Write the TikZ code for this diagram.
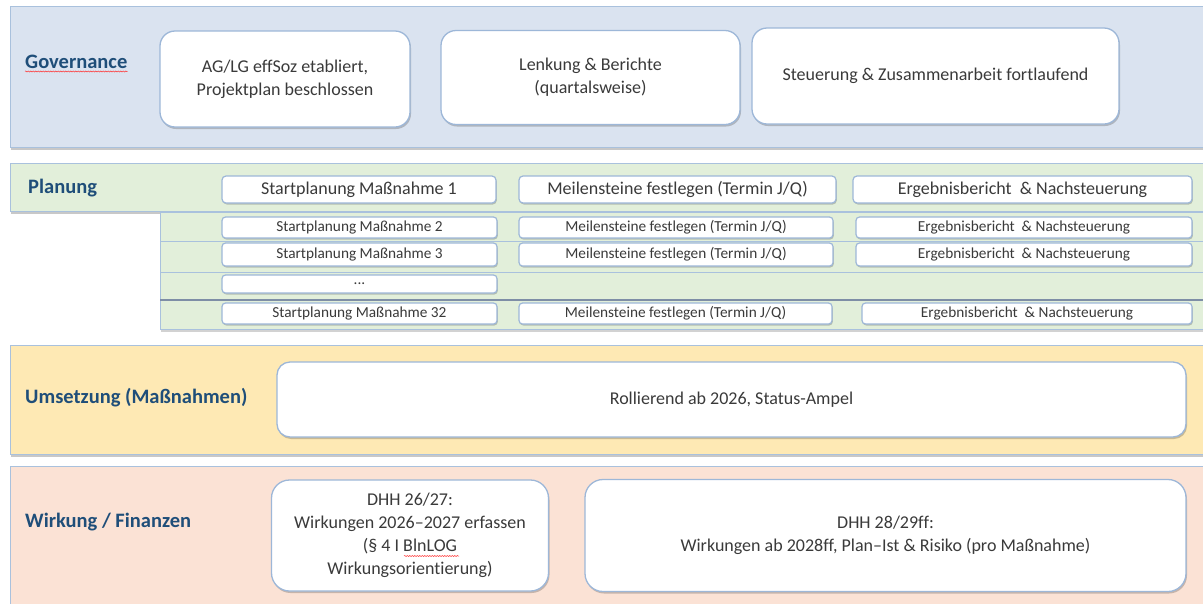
\documentclass[tikz,border=0pt]{standalone}
\usepackage{fontspec}
\setmainfont{Carlito}[Ligatures=NoCommon]
\usetikzlibrary{shadows,decorations.pathmorphing}
\definecolor{govfill}{HTML}{DAE3F0}
\definecolor{planfill}{HTML}{E2EFDA}
\definecolor{umsfill}{HTML}{FEE9B4}
\definecolor{wirkfill}{HTML}{FBE2D5}
\definecolor{bandline}{HTML}{A9C1DD}
\definecolor{boxline}{HTML}{9DB7D8}
\definecolor{labelblue}{HTML}{1F4E79}
\definecolor{txtgray}{HTML}{3A3A3A}
\definecolor{sepdark}{HTML}{7E8EA6}
\begin{document}
\begin{tikzpicture}[x=1pt,y=-1pt,
  band/.style={draw=bandline, line width=1.2pt, inner sep=0pt, anchor=north west,
    drop shadow={shadow xshift=0.5pt, shadow yshift=-2.5pt, opacity=0.3, fill=black!70}},
  subband/.style={draw=bandline, line width=1pt, fill=planfill, inner sep=0pt, anchor=north west},
  bigbox/.style={draw=boxline, line width=1.3pt, fill=white, rounded corners=15pt, inner sep=0pt,
    align=center, text=txtgray, font=\fontsize{18}{23}\selectfont,
    drop shadow={shadow xshift=1pt, shadow yshift=-2pt, opacity=0.3, fill=black!70}},
  rowbox/.style={draw=boxline, line width=1.2pt, fill=white, rounded corners=4pt, inner sep=0pt,
    align=center, text=txtgray, font=\fontsize{18}{22}\selectfont,
    drop shadow={shadow xshift=0.8pt, shadow yshift=-1.5pt, opacity=0.3, fill=black!70}},
  subbox/.style={rowbox, font=\fontsize{15.3}{18}\selectfont, rounded corners=3.5pt},
  lanelabel/.style={anchor=west, inner sep=0pt, text=labelblue, font=\fontsize{20.5}{24}\bfseries\selectfont},
  squig/.style={draw=red!80, line width=0.5pt, decorate, decoration={snake, segment length=2.5pt, amplitude=0.6pt}}
]
\clip (0,0) rectangle (1203,603);
\fill[white] (0,0) rectangle (1203,603);

% ---- bands ----
\node[band, fill=govfill, minimum width=1215pt, minimum height=141pt] (govband) at (10,6) {};
\node[band, fill=planfill, minimum width=1215pt, minimum height=48pt] (planband) at (10,163) {};
\node[subband, minimum width=1060pt, minimum height=29pt] (sub2) at (160,212) {};
\node[subband, minimum width=1060pt, minimum height=31pt] (sub3) at (160,241) {};
\node[subband, minimum width=1060pt, minimum height=28pt] (sub4) at (160,272) {};
\node[subband, minimum width=1060pt, minimum height=29pt,
  drop shadow={shadow xshift=0.5pt, shadow yshift=-2pt, opacity=0.25, fill=black!70}] (sub5) at (160,300) {};
\draw[sepdark, line width=1.2pt] (sub5.north west) -- (sub5.north east);
\node[band, fill=umsfill, minimum width=1215pt, minimum height=109pt] (umsband) at (10,345) {};
\node[band, fill=wirkfill, minimum width=1215pt, minimum height=150pt] (wirkband) at (10,466) {};

% ---- labels ----
\node[lanelabel] (govlabel) at (25,62) {Governance};
\draw[squig] ([yshift=-2.5pt]govlabel.south west) -- ([yshift=-2.5pt]govlabel.south east);
\node[lanelabel] (planlabel) at (28,188) {Planung};
\node[lanelabel] (umslabel) at (25,398) {Umsetzung (Maßnahmen)};
\node[lanelabel] (wirklabel) at (25,522) {Wirkung / Finanzen};

% ---- governance boxes ----
\node[bigbox, minimum width=250pt, minimum height=96pt] (g1) at (285,79)
  {AG/LG effSoz etabliert,\\Projektplan beschlossen};
\node[bigbox, minimum width=299pt, minimum height=94pt] (g2) at (590.5,77.5)
  {Lenkung \& Berichte\\(quartalsweise)};
\node[bigbox, minimum width=367pt, minimum height=96pt] (g3) at (935.5,76)
  {Steuerung \& Zusammenarbeit fortlaufend};

% ---- planung rows ----
\node[rowbox, minimum width=274pt, minimum height=27pt] (p1s) at (359,189.5) {Startplanung Maßnahme 1};
\node[rowbox, minimum width=317pt, minimum height=27pt] (p1m) at (677.5,189.5) {Meilensteine festlegen (Termin J/Q)};
\node[rowbox, minimum width=339pt, minimum height=27pt] (p1e) at (1022.5,189.5) {Ergebnisbericht~ \& Nachsteuerung};

\node[subbox, minimum width=275pt, minimum height=21pt] (p2s) at (359.5,227.5) {Startplanung Maßnahme 2};
\node[subbox, minimum width=314pt, minimum height=21pt] (p2m) at (676,227.5) {Meilensteine festlegen (Termin J/Q)};
\node[subbox, minimum width=336pt, minimum height=21pt] (p2e) at (1024,227.5) {Ergebnisbericht~ \& Nachsteuerung};

\node[subbox, minimum width=275pt, minimum height=23pt] (p3s) at (359.5,254.5) {Startplanung Maßnahme 3};
\node[subbox, minimum width=314pt, minimum height=23pt] (p3m) at (676,254.5) {Meilensteine festlegen (Termin J/Q)};
\node[subbox, minimum width=336pt, minimum height=23pt] (p3e) at (1024,254.5) {Ergebnisbericht~ \& Nachsteuerung};

\node[subbox, minimum width=275pt, minimum height=18pt] (p4s) at (359.5,284) {...};

\node[subbox, minimum width=275pt, minimum height=21pt] (p5s) at (359.5,313.5) {Startplanung Maßnahme 32};
\node[subbox, minimum width=313pt, minimum height=21pt] (p5m) at (675.5,313.5) {Meilensteine festlegen (Termin J/Q)};
\node[subbox, minimum width=330pt, minimum height=21pt] (p5e) at (1027,313.5) {Ergebnisbericht~ \& Nachsteuerung};

% ---- umsetzung ----
\node[bigbox, rounded corners=13pt, minimum width=909pt, minimum height=75pt] (u1) at (731.5,399.5)
  {Rollierend ab 2026, Status-Ampel};

% ---- wirkung ----
\node[bigbox, rounded corners=18pt, minimum width=277pt, minimum height=111pt] (w1) at (410,535.5)
  {DHH 26/27:\\Wirkungen 2026--2027 erfassen\\(§ 4 I BlnLOG\\Wirkungsorientierung)};
\draw[squig] (404,556) -- (459,556);
\node[bigbox, rounded corners=18pt, minimum width=601pt, minimum height=112pt] (w2) at (885.5,535.5)
  {DHH 28/29ff:\\Wirkungen ab 2028ff, Plan--Ist \& Risiko (pro Maßnahme)};
\end{tikzpicture}
\end{document}
